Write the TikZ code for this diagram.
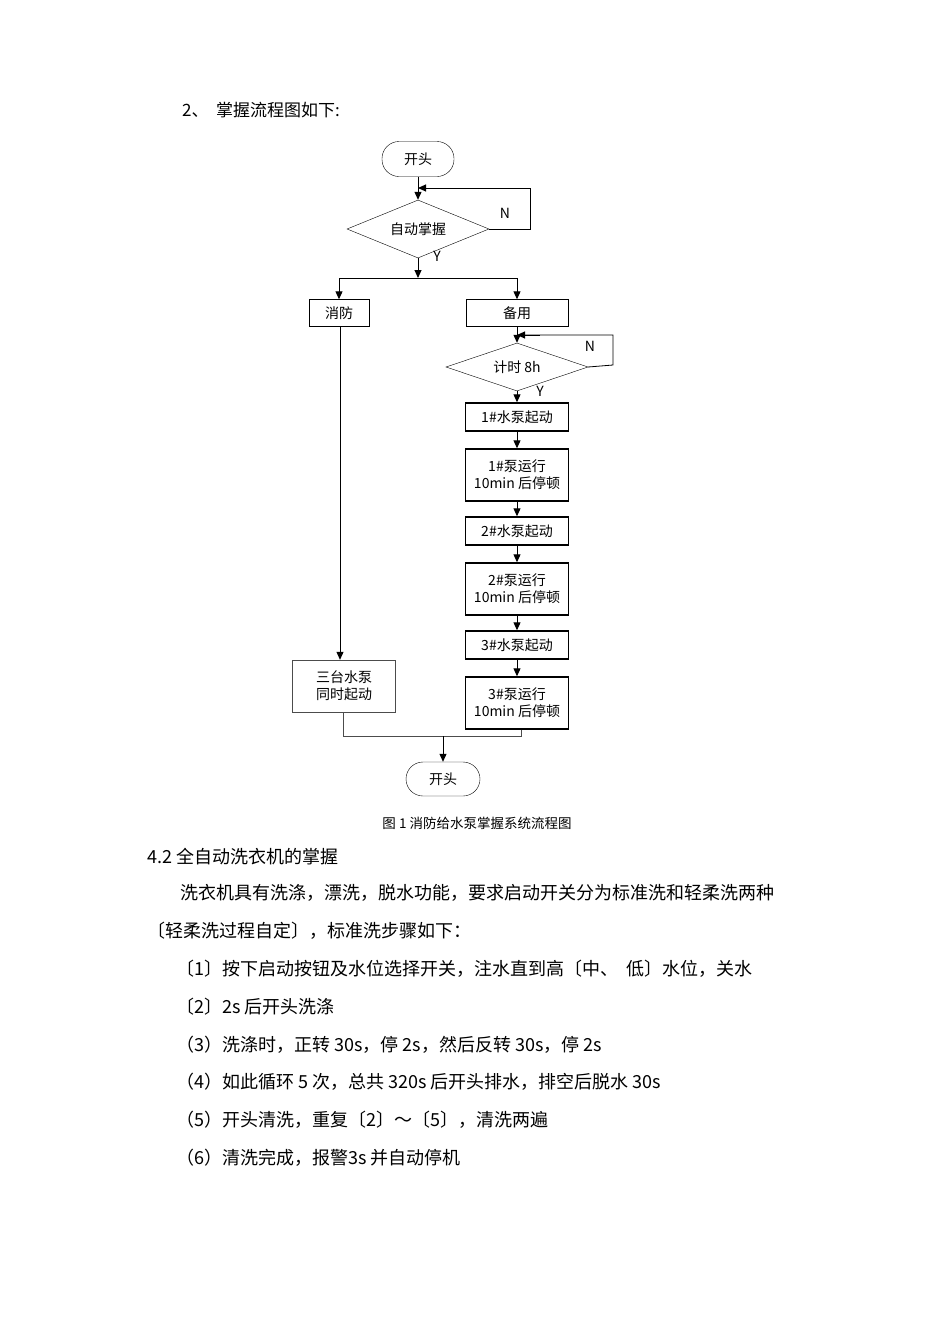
\documentclass[tikz,border=0pt]{standalone}
\usepackage{fontspec}
\setmainfont{Noto Sans CJK SC}
\usetikzlibrary{shapes.geometric,arrows.meta}
\begin{document}
\begin{tikzpicture}[x=1pt,y=-1pt,
  fc/.style={font=\fontsize{14}{17}\selectfont},
  box/.style={draw,fc,minimum width=103pt,minimum height=28pt,inner sep=0pt,align=center},
  tbox/.style={box,line width=1.4pt},
  term/.style={draw,fc,rounded corners=17pt,minimum width=72pt,minimum height=35pt},
  dia/.style={draw,fc,diamond,aspect=2.4,inner sep=0pt},
  arr/.style={-{Triangle[length=8pt,width=7pt]},line width=1pt},
  ln/.style={line width=0.8pt},
  body/.style={anchor=west,font=\fontsize{18}{22}\selectfont,inner sep=0pt}]
\useasboundingbox[fill=white] (0,0) rectangle (950,1344);
\node[body,font=\fontsize{17}{20}\selectfont] (h) at (182,110) {2、\ \ 掌握流程图如下:};
\node[term] (s) at (418,159) {开头};
\node[dia,minimum width=142pt,minimum height=58pt] (d1) at (418,229) {自动掌握};
\coordinate (j1) at (418,188);
\draw[arr] (s) -- (d1.north);
\draw[ln] (d1.east) -- (530,229) -- (530,188) -- (425,188);
\draw[arr] (450,188) -- (j1);
\node[fc] (n1) at (505,213) {N};
\node[fc] (y1) at (437,256) {Y};
\coordinate (j2) at (418,278);
\draw[arr] (d1.south) -- (j2);
\node[box,minimum width=60pt,minimum height=27pt] (xf) at (339,313) {消防};
\node[box,minimum width=102pt,minimum height=27pt] (by) at (517,313) {备用};
\draw[arr] (j2) -| (xf.north);
\draw[arr] (j2) -| (by.north);
\node[dia,minimum width=142pt,minimum height=48pt] (d2) at (517,367) {计时\ 8h};
\coordinate (j3) at (517,335);
\draw[arr] (by) -- (d2.north);
\draw[ln] (d2.east) -- (613,365) -- (613,335) -- (525,335);
\draw[arr] (540,335) -- (j3);
\node[fc] (n2) at (590,346) {N};
\node[fc] (y2) at (540,391) {Y};
\node[tbox] (b1) at (517,417) {1\#水泵起动};
\node[tbox,minimum height=52pt] (b2) at (517,475) {1\#泵运行\\10min 后停顿};
\node[tbox] (b3) at (517,531) {2\#水泵起动};
\node[tbox,minimum height=52pt] (b4) at (517,589) {2\#泵运行\\10min 后停顿};
\node[tbox] (b5) at (517,645) {3\#水泵起动};
\node[tbox,minimum height=52pt] (b6) at (517,703) {3\#泵运行\\10min 后停顿};
\draw[arr] (d2.south) -- (b1);
\draw[arr] (b1) -- (b2);
\draw[arr] (b2) -- (b3);
\draw[arr] (b3) -- (b4);
\draw[arr] (b4) -- (b5);
\draw[arr] (b5) -- (b6);
\node[box,draw=black!70,minimum width=103pt,minimum height=52pt] (st) at (344,686) {三台水泵\\同时起动};
\draw[arr] (xf.south -| 340,0) -- (st.north -| 340,0);
\coordinate (m) at (443,736);
\draw[ln,draw=black!70] (st.south -| 343,0) -- (343,736) -- (521,736) -- (b6.south -| 521,0);
\node[term,minimum width=74pt,minimum height=34pt] (e) at (443,779) {开头};
\draw[arr] (m) -- (e);
\node[font=\fontsize{13.5}{16}\selectfont] (cap) at (477,823) {图 1\ 消防给水泵掌握系统流程图};
\node[body] (t1) at (147,857) {4.2 全自动洗衣机的掌握};
\node[body] (t2) at (180,893) {洗衣机具有洗涤，漂洗，脱水功能，要求启动开关分为标准洗和轻柔洗两种};
\node[body] (t3) at (147,931) {〔轻柔洗过程自定〕，标准洗步骤如下：};
\node[body] (t4) at (176,969) {〔1〕按下启动按钮及水位选择开关，注水直到高〔中、\ \ 低〕水位，关水};
\node[body] (t5) at (176,1007) {〔2〕2s 后开头洗涤};
\node[body] (t6) at (176,1045) {（3）洗涤时，正转 30s，停 2s，然后反转 30s，停 2s};
\node[body] (t7) at (176,1082) {（4）如此循环 5 次，总共 320s 后开头排水，排空后脱水 30s};
\node[body] (t8) at (176,1120) {（5）开头清洗，重复〔2〕～〔5〕，清洗两遍};
\node[body] (t9) at (176,1158) {（6）清洗完成，报警3s 并自动停机};
\end{tikzpicture}
\end{document}
